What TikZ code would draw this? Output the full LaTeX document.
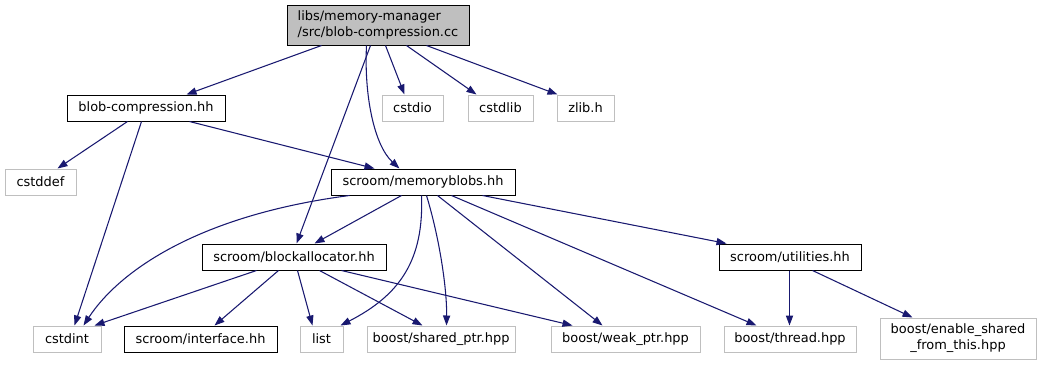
\documentclass[tikz,border=0pt]{standalone}
\usepackage{fontspec}
\setmainfont{DejaVu Sans}
\usetikzlibrary{arrows.meta,calc}
\definecolor{edgeblue}{RGB}{25,25,112}
\definecolor{extgray}{RGB}{191,191,191}

% straight include edge: source, offset along its bottom, target, offset along its top
\newcommand\incedge[4]{\draw[dep] ($(#1.south west)+(#2,0)$) -- ($(#3.north west)+(#4,0)$);}

\begin{document}
\begin{tikzpicture}[x=0.75pt,y=-0.75pt,
  file/.style={draw=black,line width=0.75pt,inner sep=0pt,minimum height=19.5pt,
    font=\fontsize{9.7}{12}\selectfont},
  ext/.style={file,draw=extgray},
  dep/.style={draw=edgeblue,line width=0.8pt,-{Triangle[length=7.5pt,width=5.4pt]}}]
\useasboundingbox (0,0) rectangle (1045,365);

% documented and external headers
\node[file,fill=extgray,minimum width=136.5pt,minimum height=30pt,align=left] (main) at (378,25)
  {libs/memory-manager\\/src/blob-compression.cc};
\node[file,minimum width=118.5pt] (blobhh) at (146,108) {blob-compression.hh};
\node[ext,minimum width=45.75pt] (cstdio) at (412.5,108) {cstdio};
\node[ext,minimum width=48.75pt] (cstdlib) at (500.5,108) {cstdlib};
\node[ext,minimum width=42.75pt] (zlib) at (585.5,108) {zlib.h};
\node[ext,minimum width=53.25pt] (cstddef) at (40.5,182) {cstddef};
\node[file,minimum width=138pt] (mblobs) at (423,182) {scroom/memoryblobs.hh};
\node[file,minimum width=138pt] (balloc) at (294,257) {scroom/blockallocator.hh};
\node[file,minimum width=106.5pt] (util) at (790,257) {scroom/utilities.hh};
\node[ext,minimum width=51pt] (cstdint) at (67,339) {cstdint};
\node[file,minimum width=114.75pt] (iface) at (200.5,339) {scroom/interface.hh};
\node[ext,minimum width=32.25pt] (list) at (321.5,339) {list};
\node[ext,minimum width=111pt] (shared) at (441,339) {boost/shared\_ptr.hpp};
\node[ext,minimum width=111.75pt] (weak) at (625.5,339) {boost/weak\_ptr.hpp};
\node[ext,minimum width=99pt] (thread) at (790,339) {boost/thread.hpp};
\node[ext,minimum width=117pt,minimum height=30.75pt,align=center] (enable) at (958,338.5)
  {boost/enable\_shared\\\_from\_this.hpp};

% includes of blob-compression.cc
\incedge{main}{35}{blobhh}{120}
\incedge{main}{84}{balloc}{95}
\draw[dep] ($(main.south west)+(80,0)$) .. controls (364,95) and (374,145) .. ($(mblobs.north west)+(69,0)$);
\incedge{main}{99}{cstdio}{23}
\incedge{main}{120}{cstdlib}{9}
\incedge{main}{140}{zlib}{1}

% includes of blob-compression.hh
\incedge{blobhh}{61}{cstddef}{53}
\incedge{blobhh}{75}{cstdint}{42}
\incedge{blobhh}{123}{mblobs}{44}

% includes of memoryblobs.hh
\draw[dep] ($(mblobs.south west)+(19,0)$) .. controls (200,215) and (120,270) .. ($(cstdint.north west)+(51,0)$);
\incedge{mblobs}{71}{balloc}{113}
\draw[dep] ($(mblobs.south west)+(91,0)$) .. controls (424,260) and (400,295) .. ($(list.north west)+(41,0)$);
\draw[dep] ($(mblobs.south west)+(96,0)$) .. controls (440,240) and (447,290) .. ($(shared.north west)+(80,0)$);
\incedge{mblobs}{107}{weak}{52}
\incedge{mblobs}{121}{thread}{33}
\incedge{mblobs}{152}{util}{8}

% includes of blockallocator.hh
\incedge{balloc}{55}{cstdint}{62}
\incedge{balloc}{77}{iface}{91}
\incedge{balloc}{96}{list}{13}
\incedge{balloc}{118}{shared}{56}
\incedge{balloc}{140}{weak}{22}

% includes of utilities.hh
\incedge{util}{71}{thread}{66}
\incedge{util}{94}{enable}{33}
\end{tikzpicture}
\end{document}
